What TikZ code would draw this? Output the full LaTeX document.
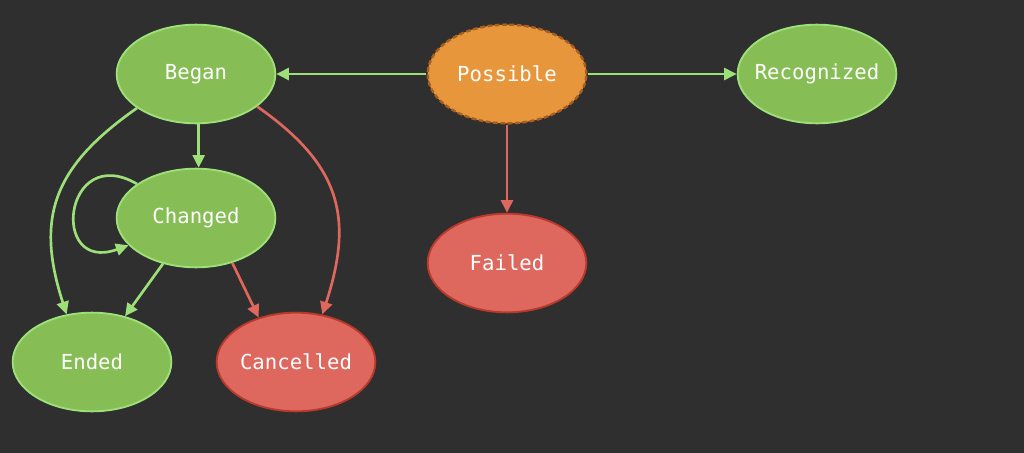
\documentclass[tikz,border=0pt]{standalone}
\usepackage{fontspec}
\setmonofont{DejaVu Sans Mono}
\usetikzlibrary{shapes.geometric, arrows.meta, positioning}
\definecolor{bgdark}{HTML}{2F2F2F}
\definecolor{leafgreen}{HTML}{86BE55}
\definecolor{limeline}{HTML}{9DE07A}
\definecolor{coral}{HTML}{DE675E}
\definecolor{brickred}{HTML}{B83A2C}
\definecolor{tangerine}{HTML}{E8963B}
\definecolor{rust}{HTML}{A85E1F}

\begin{document}
\begin{tikzpicture}[x=0.75pt,y=-0.75pt,>={Triangle[length=9.5pt,width=9pt]}]
        \tikzstyle{state}=[ellipse, minimum width=119pt, minimum height=74pt, inner xsep=-6pt, inner ysep=0pt, line width=1.4pt, text=white, font=\ttfamily\fontsize{15.5}{18}\selectfont]
        \tikzstyle{okstate}=[state, fill=leafgreen, draw=limeline]
        \tikzstyle{badstate}=[state, fill=coral, draw=brickred]
        \tikzstyle{startstate}=[state, fill=tangerine, draw=rust, line width=1.8pt, dash pattern=on 3.5pt off 2pt]
        \tikzstyle{go}=[->, draw=limeline, line width=2pt]
        \tikzstyle{fail}=[->, draw=coral, line width=2pt]

        % Background
        \fill[bgdark] (0,0) rectangle (1024,453);

        % States
        \node (possible)[startstate] at (507,74) {Possible};
        \node (began)[okstate] at (196,74) {Began};
        \node (recognized)[okstate] at (817,74) {Recognized};
        \node (changed)[okstate] at (196,218) {Changed};
        \node (failed)[badstate] at (507,263) {Failed};
        \node (ended)[okstate] at (92,362) {Ended};
        \node (cancelled)[badstate] at (296,362) {Cancelled};

        % Transitions out of Possible
        \draw[go] (possible) -- (began);
        \draw[go] (possible) -- (recognized);
        \draw[fail] (possible) -- (failed);

        % Transitions out of Began
        \draw[go] ([xshift=2pt]began.south) -- ([xshift=2pt]changed.north);
        \draw[go] (began.210) to[out=215,in=108,looseness=1.2] (ended.118);
        \draw[fail] (began.332) to[out=-35,in=72,looseness=1.2] (cancelled.61);

        % Transitions out of Changed
        \draw[go] (changed.150) to[out=150,in=200,looseness=3.5] (changed.202);
        \draw[go] (changed) -- (ended);
        \draw[fail] (changed.-51) -- (cancelled.130);
\end{tikzpicture}
\end{document}
